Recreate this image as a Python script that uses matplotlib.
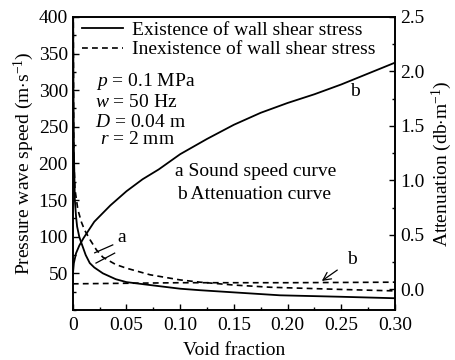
import matplotlib
matplotlib.use('Agg')
import matplotlib.pyplot as plt
from matplotlib.ticker import MultipleLocator, FixedLocator, FixedFormatter

plt.rcParams['font.family'] = ['Liberation Serif', 'DejaVu Serif']
plt.rcParams['mathtext.fontset'] = 'custom'
plt.rcParams['mathtext.rm'] = 'Liberation Serif'
plt.rcParams['mathtext.it'] = 'Liberation Serif:italic'

# sound speed, with wall shear stress (m/s)
a_shear_x = [0.0003, 0.0006, 0.001, 0.0019, 0.003, 0.004, 0.006, 0.0081, 0.012,
             0.0158, 0.02, 0.028, 0.04, 0.05, 0.072, 0.10, 0.118, 0.15, 0.193,
             0.25, 0.30]
a_shear_y = [420, 300, 220, 150, 128, 114, 100, 91, 75, 64, 58, 50, 42, 38, 34,
             29, 27, 24, 20, 18, 16]

# sound speed, no wall shear stress (m/s)
a_free_x = [0.0004, 0.0008, 0.001, 0.002, 0.0047, 0.008, 0.011, 0.016, 0.022,
            0.028, 0.04, 0.05, 0.072, 0.10, 0.118, 0.15, 0.184, 0.25, 0.30]
a_free_y = [420, 240, 205, 165, 137, 120, 109, 96, 82, 72, 62, 57, 48, 41, 38,
            34, 31, 28, 26]

# attenuation, with wall shear stress (db/m)
b_shear_x = [0, 0.001, 0.003, 0.006, 0.01, 0.02, 0.035, 0.05, 0.065, 0.08, 0.10,
             0.125, 0.15, 0.175, 0.20, 0.225, 0.25, 0.275, 0.30]
b_shear_y = [0.13, 0.24, 0.33, 0.40, 0.47, 0.62, 0.77, 0.90, 1.01, 1.10, 1.24,
             1.38, 1.51, 1.62, 1.71, 1.79, 1.88, 1.98, 2.08]

# attenuation, no wall shear stress (db/m)
b_free_x = [0, 0.10, 0.20, 0.30]
b_free_y = [0.05, 0.06, 0.06, 0.065]

x_ticks = [0, 0.05, 0.10, 0.15, 0.20, 0.25, 0.30]
x_labels = ['0', '0.05', '0.10', '0.15', '0.20', '0.25', '0.30']

FS = 14
dash = (3.5, 2.5)

fig = plt.figure(figsize=(4.55, 3.6), dpi=100)
ax = fig.add_axes([0.160, 0.139, 0.708, 0.814])
ax2 = ax.twinx()

ax.plot(a_shear_x, a_shear_y, c='k', lw=1.3, label='Existence of wall shear stress')
ax.plot(a_free_x, a_free_y, c='k', lw=1.2, ls='--', dashes=dash,
        label='Inexistence of wall shear stress')
ax2.plot(b_shear_x, b_shear_y, c='k', lw=1.3)
ax2.plot(b_free_x, b_free_y, c='k', lw=1.2, ls='--', dashes=dash)

ax.set_xlim(0, 0.30)
ax.set_ylim(0, 400)
ax2.set_ylim(-0.19, 2.5)

ax.xaxis.set_major_locator(FixedLocator(x_ticks))
ax.xaxis.set_major_formatter(FixedFormatter(x_labels))
ax.xaxis.set_minor_locator(MultipleLocator(0.025))
ax.yaxis.set_major_locator(FixedLocator([50, 100, 150, 200, 250, 300, 350, 400]))
ax.yaxis.set_minor_locator(MultipleLocator(25))
ax2.yaxis.set_major_locator(MultipleLocator(0.5))
ax2.yaxis.set_minor_locator(MultipleLocator(0.25))
ax2.yaxis.set_major_formatter(plt.FuncFormatter(lambda v, p: '%.1f' % v))

for a in (ax, ax2):
    a.tick_params(which='both', direction='in', labelsize=FS, width=1.0)
    a.tick_params(which='major', length=4)
    a.tick_params(which='minor', length=2.5)
    for s in a.spines.values():
        s.set_linewidth(1.2)
ax.tick_params(axis='x', pad=5)

ax.set_xlabel('Void fraction', fontsize=FS, labelpad=6)
ax.set_ylabel('Pressure wave speed (m$\\cdot$s$^{-1}$)', fontsize=FS, labelpad=2)
ax2.set_ylabel('Attenuation (db$\\cdot$m$^{-1}$)', fontsize=FS, labelpad=4)

ax2.legend(*ax.get_legend_handles_labels(), loc='upper left',
           bbox_to_anchor=(0.028, 0.985), frameon=False, fontsize=FS,
           borderpad=0, borderaxespad=0, handlelength=2.1, handletextpad=0.5,
           labelspacing=0.1)

tr = ax2.transAxes
ax2.text(0.072, 0.778, '$p$ = 0.1 MPa', transform=tr, fontsize=FS, va='center')
ax2.text(0.068, 0.708, '$w$ = 50 Hz', transform=tr, fontsize=FS, va='center')
ax2.text(0.070, 0.640, '$D$ = 0.04 m', transform=tr, fontsize=FS, va='center')
ax2.text(0.083, 0.580, '$r$ = 2 mm', transform=tr, fontsize=FS, va='center')

ax2.text(0.317, 0.471, 'a Sound speed curve', transform=tr, fontsize=FS, va='center')
ax2.text(0.323, 0.394, 'b Attenuation curve', transform=tr, fontsize=FS, va='center')

# curve tags
ax2.text(0.152, 0.246, 'a', transform=tr, fontsize=FS, ha='center', va='center')
ax2.plot([0.068, 0.124], [0.195, 0.222], c='k', lw=0.9, transform=tr)
ax2.plot([0.072, 0.130], [0.160, 0.194], c='k', lw=0.9, transform=tr)
ax2.text(0.876, 0.744, 'b', transform=tr, fontsize=FS, ha='center', va='center')
ax2.annotate('b', xy=(0.773, 0.099), xytext=(0.866, 0.171), xycoords=tr,
             textcoords=tr, fontsize=FS, ha='center', va='center',
             arrowprops=dict(arrowstyle='->', lw=0.9, color='k',
                             shrinkA=6, shrinkB=0))

fig.savefig('out.png', dpi=100)
